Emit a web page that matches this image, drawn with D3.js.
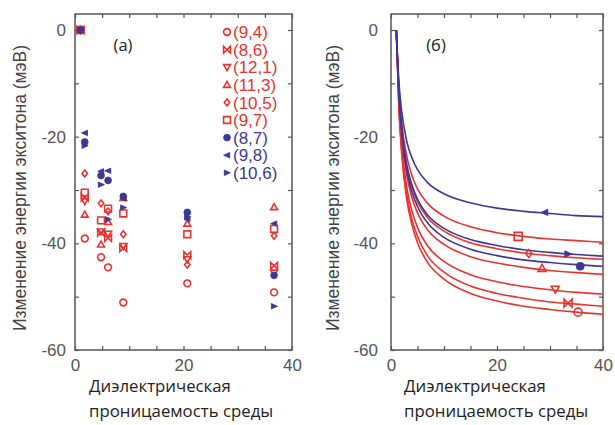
<!DOCTYPE html>
<html><head><meta charset="utf-8">
<script src="https://cdn.jsdelivr.net/npm/d3@7"></script>
<style>body{margin:0;background:#fff}svg{display:block}</style>
</head><body>
<script>
// ---------- data ----------
const seriesNames = ["(9,4)","(8,6)","(12,1)","(11,3)","(10,5)","(9,7)","(8,7)","(9,8)","(10,6)"];
const seriesShapes = ["circle","bowtie","triDown","triUp","diamond","square","dot","triLeft","triRight"];
const seriesGroup = ["red","red","red","red","red","red","blue","blue","blue"];
// panel (a): measured points
const measEps = [1, 1.8, 4.8, 6.1, 8.9, 20.7, 36.7];
const meas_9_4  = [0, -39.1, -42.6, -44.5, -51.1, -47.5, -49.2];
const meas_8_6  = [0, -31.4, -38.0, -39.0, -40.9, -42.2, -44.2];
const meas_12_1 = [0, -32.1, -37.8, -38.2, -40.5, -43.0, -45.5];
const meas_11_3 = [0, -34.6, -40.2, -36.0, -31.5, -36.3, -33.2];
const meas_10_5 = [0, -26.9, -32.5, -34.0, -38.3, -44.0, -38.6];
const meas_9_7  = [0, -30.5, -35.7, -33.5, -34.4, -38.3, -37.3];
const meas_8_7  = [0, -21.0, -27.3, -28.2, -31.2, -34.2, -46.0];
const meas_9_8  = [0, -19.3, -26.5, -26.4, -31.6, -35.5, -36.3];
const meas_10_6 = [0, -21.7, -29.0, -35.5, -33.3, -35.0, -51.8];
const measValues = [meas_9_4, meas_8_6, meas_12_1, meas_11_3, meas_10_5, meas_9_7, meas_8_7, meas_9_8, meas_10_6];
// panel (б): model curves
const curveEps = [1, 1.5, 2, 3, 4, 5, 7, 10, 15, 20, 25, 30, 35, 40];
const curve_9_4  = [0, -14.9, -23.0, -31.9, -36.7, -39.9, -43.7, -46.7, -49.4, -50.8, -51.8, -52.4, -52.9, -53.3];
const curve_8_6  = [0, -14.5, -22.4, -31.0, -35.7, -38.7, -42.5, -45.4, -48.0, -49.4, -50.3, -51.0, -51.4, -51.8];
const curve_12_1 = [0, -13.9, -21.4, -29.7, -34.1, -37.0, -40.6, -43.4, -45.9, -47.2, -48.1, -48.7, -49.2, -49.5];
const curve_11_3 = [0, -12.8, -19.8, -27.4, -31.6, -34.3, -37.6, -40.2, -42.5, -43.7, -44.5, -45.1, -45.5, -45.8];
const curve_10_5 = [0, -12.0, -18.6, -25.8, -29.6, -32.2, -35.3, -37.7, -39.9, -41.0, -41.8, -42.3, -42.7, -43.0];
const curve_9_7  = [0, -11.1, -17.2, -23.8, -27.4, -29.8, -32.6, -34.9, -36.9, -38.0, -38.7, -39.2, -39.5, -39.8];
const curve_8_7  = [0, -12.4, -19.1, -26.5, -30.5, -33.1, -36.3, -38.9, -41.1, -42.3, -43.1, -43.6, -44.0, -44.3];
const curve_9_8  = [0, -9.8, -15.1, -21.0, -24.1, -26.2, -28.7, -30.7, -32.4, -33.4, -34.0, -34.4, -34.8, -35.0];
const curve_10_6 = [0, -11.9, -18.3, -25.4, -29.2, -31.7, -34.8, -37.2, -39.3, -40.4, -41.2, -41.7, -42.1, -42.4];
const curveValues = [curve_9_4, curve_8_6, curve_12_1, curve_11_3, curve_10_5, curve_9_7, curve_8_7, curve_9_8, curve_10_6];
// marker positions on curves
const markerEps = [35.3, 33.4, 31.0, 28.5, 26.0, 24.0, 35.7, 29.0, 33.4];
const markerVals = [-52.9, -51.2, -48.6, -44.7, -41.9, -38.7, -44.3, -34.2, -42.0];
// axes
const xTickLabels = [0, 20, 40];
const yTickLabels = [0, -20, -40, -60];
const xMinorTicks = [0, 5, 10, 15, 20, 25, 30, 35, 40];
const yMinorTicks = [0, -10, -20, -30, -40, -50, -60];
const yTitle = "Изменение энергии экситона (мэВ)";
const xTitle1 = "Диэлектрическая";
const xTitle2 = "проницаемость среды";

// ---------- drawing ----------
const W = 615, H = 425;
const RED = "#e8332f", BLUE = "#3b3896", AX = "#555";
const colorOf = g => g === "red" ? RED : BLUE;
const svg = d3.select("body").append("svg").attr("width", W).attr("height", H);

function shapePath(type, s) {
  switch (type) {
    case "circle": case "dot": return d3.symbol(d3.symbolCircle, Math.PI * s * s)();
    case "bowtie": return `M${-s},${-s}L${s},${s}L${s},${-s}L${-s},${s}Z`;
    case "triDown": return `M0,${s}L${-s},${-s*0.75}L${s},${-s*0.75}Z`;
    case "triUp": return `M0,${-s}L${-s},${s*0.75}L${s},${s*0.75}Z`;
    case "diamond": return `M0,${-s}L${s*0.8},0L0,${s}L${-s*0.8},0Z`;
    case "square": return `M${-s},${-s}H${s}V${s}H${-s}Z`;
    case "triLeft": return `M${-s},0L${s*0.8},${-s*0.8}L${s*0.8},${s*0.8}Z`;
    case "triRight": return `M${s},0L${-s*0.8},${-s*0.8}L${-s*0.8},${s*0.8}Z`;
  }
}
function drawMarker(g, type, color, x, y, s) {
  const filled = (type === "dot" || type === "triLeft" || type === "triRight");
  g.append("path").attr("d", shapePath(type, s))
    .attr("transform", `translate(${x},${y})`)
    .attr("fill", filled ? color : "none")
    .attr("stroke", color).attr("stroke-width", filled ? 0.8 : 1.6);
}

const yScale = d3.scaleLinear().domain([-60, 3]).range([350, 14]);

function drawFrame(x, labelGap) {
  const g = svg.append("g");
  const [x0, x1] = x.range(); const [y0, y1] = yScale.range();
  g.append("g").attr("transform", `translate(0,${y0})`)
    .call(d3.axisBottom(x).tickValues(xMinorTicks).tickSizeInner(-4).tickSizeOuter(0).tickFormat(""));
  g.append("g").attr("transform", `translate(0,${y1})`)
    .call(d3.axisTop(x).tickValues(xMinorTicks).tickSizeInner(-4).tickSizeOuter(0).tickFormat(""));
  g.append("g").attr("transform", `translate(${x0},0)`)
    .call(d3.axisLeft(yScale).tickValues(yMinorTicks).tickSizeInner(-4).tickSizeOuter(0).tickFormat(""));
  g.append("g").attr("transform", `translate(${x1},0)`)
    .call(d3.axisRight(yScale).tickValues(yMinorTicks).tickSizeInner(-4).tickSizeOuter(0).tickFormat(""));
  g.selectAll(".domain").remove();
  g.selectAll(".tick line").attr("stroke", AX).attr("stroke-width", 1.2);
  g.append("rect").attr("x", x0).attr("y", y1).attr("width", x1 - x0).attr("height", y0 - y1)
    .attr("fill", "none").attr("stroke", AX).attr("stroke-width", 1.5);
  const lx = g.append("g").attr("transform", `translate(0,${y0 + 6})`)
    .call(d3.axisBottom(x).tickValues(xTickLabels).tickSize(0).tickFormat(d => String(d)));
  const ly = g.append("g").attr("transform", `translate(${x0 - labelGap},0)`)
    .call(d3.axisLeft(yScale).tickValues(yTickLabels).tickSize(0).tickFormat(d => String(d)));
  [lx, ly].forEach(a => { a.select(".domain").remove();
    a.selectAll("text").attr("fill", AX).style("font-family", "Liberation Sans, Arial, sans-serif").style("font-size", "17px"); });
  return g;
}

// ---- panel (a) ----
const xA = d3.scaleLinear().domain([0, 40]).range([75, 292]);
drawFrame(xA, 6);
const gA = svg.append("g");
seriesNames.forEach((n, i) => {
  measValues[i].forEach((v, j) => drawMarker(gA, seriesShapes[i], colorOf(seriesGroup[i]), xA(measEps[j]), yScale(v), 3.4));
});
svg.append("text").attr("x", 123).attr("y", 51).attr("text-anchor", "middle")
  .style("font-family", "Open Sans, sans-serif").style("font-size", "16.5px").attr("fill", "#222").text("(a)");
// legend
const leg = svg.append("g");
seriesNames.forEach((n, i) => {
  const y = 32 + 17.6 * i, c = colorOf(seriesGroup[i]);
  drawMarker(leg, seriesShapes[i], c, 227, y, 3.4);
  leg.append("text").attr("x", 233).attr("y", y).attr("dy", "0.36em").text(n)
    .attr("fill", c).style("font-family", "Liberation Sans, Arial, sans-serif").style("font-size", "17px");
});

// ---- panel (б) ----
const xB = d3.scaleLinear().domain([0, 40]).range([391, 603]);
drawFrame(xB, 10);
svg.append("defs").append("clipPath").attr("id", "clipB").append("rect")
  .attr("x", 391).attr("y", 14).attr("width", 212).attr("height", 336);
const gB = svg.append("g").attr("clip-path", "url(#clipB)");
const line = d3.line().x((d, i) => xB(curveEps[i])).y(d => yScale(d)).curve(d3.curveMonotoneX);
seriesNames.forEach((n, i) => {
  gB.append("path").attr("d", line(curveValues[i])).attr("fill", "none")
    .attr("stroke", colorOf(seriesGroup[i])).attr("stroke-width", 1.6);
});
seriesNames.forEach((n, i) => drawMarker(svg, seriesShapes[i], colorOf(seriesGroup[i]), xB(markerEps[i]), yScale(markerVals[i]), 4));
svg.append("text").attr("x", 436).attr("y", 51).attr("text-anchor", "middle")
  .style("font-family", "Open Sans, sans-serif").style("font-size", "16.5px").attr("fill", "#222").text("(б)");

// ---- titles ----
[20, 333].forEach(cx => {
  svg.append("text").attr("transform", `translate(${cx},188) rotate(-90)`).attr("text-anchor", "middle")
    .attr("dy", "0.36em").attr("fill", "#444")
    .style("font-family", "Liberation Sans, Arial, sans-serif").style("font-size", "17.5px").text(yTitle);
});
[[89, xTitle1, 392], [89, xTitle2, 417], [404, xTitle1, 392], [404, xTitle2, 417]].forEach(([x, t, y]) => {
  svg.append("text").attr("x", x).attr("y", y).text(t).attr("fill", "#222")
    .style("font-family", "Open Sans, sans-serif").style("font-size", "16.8px");
});
</script>
</body></html>
